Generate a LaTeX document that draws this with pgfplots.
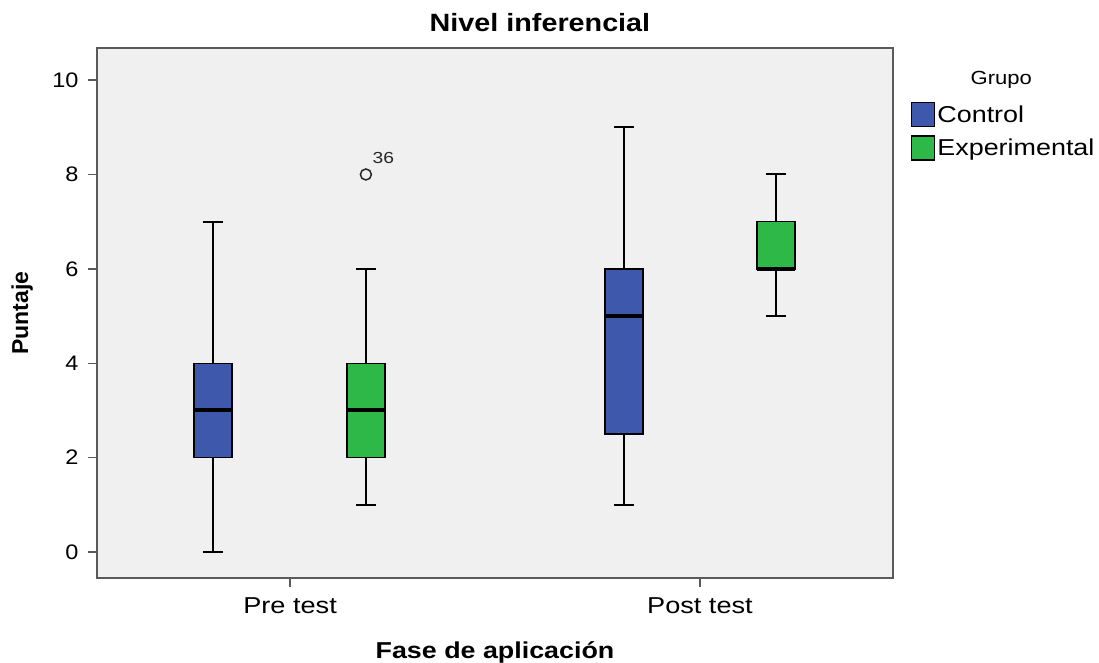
\documentclass[border=0pt]{standalone}
\usepackage{fontspec}
\setmainfont{Liberation Sans}
\usepackage{graphicx}
\usepackage{pgfplots}
\pgfplotsset{compat=1.18}
\usepgfplotslibrary{statistics}
\definecolor{ctrl}{HTML}{3E58AC}
\definecolor{expe}{HTML}{2EB848}
\definecolor{bg}{HTML}{F0F0F0}
\definecolor{frame}{HTML}{5A5A5A}
\newcommand\wide[2][1.16]{\scalebox{#1}[1]{#2}}
\begin{document}
\begin{tikzpicture}
\path[use as bounding box] (0,0) rectangle (1099pt,662pt);
\begin{axis}[
  at={(97pt,84pt)}, anchor=south west,
  scale only axis, width=796pt, height=530pt,
  clip=false,
  xmin=-0.471, xmax=1.471, ymin=-0.55, ymax=10.68,
  axis background/.style={fill=bg},
  axis line style={frame, line width=1.5pt},
  xtick={0,1}, xticklabels={\wide[1.18]{Pre test}, \wide[1.18]{Post test}},
  ytick={0,2,4,6,8,10},
  yticklabel={\wide[1.12]{\pgfmathprintnumber{\tick}}},
  tick align=outside, tick style={frame, line width=1.5pt},
  xtick pos=left, ytick pos=left,
  major tick length=9pt,
  /pgf/number format/assume math mode=true,
  yticklabel style={font=\fontsize{21}{21}\selectfont, xshift=-6pt},
  xticklabel style={font=\fontsize{23}{23}\selectfont, yshift=-7pt},
  title={\wide[1.15]{Nivel inferencial}},
  title style={at={(axis description cs:0.5565,1.036)}, anchor=center, font=\bfseries\fontsize{25}{25}\selectfont},
  xlabel={\wide[1.167]{Fase de aplicación}},
  xlabel style={at={(axis description cs:0.5,-0.14)}, anchor=center, font=\bfseries\fontsize{23}{23}\selectfont},
  ylabel={Puntaje},
  ylabel style={at={(axis description cs:-0.094,0.5)}, anchor=center, font=\bfseries\fontsize{23}{23}\selectfont},
  legend image code/.code={\draw[#1] (0pt,-12pt) rectangle (23pt,12pt);},
  legend style={at={(axis description cs:1.0226,0.898)}, anchor=north west, draw=none, fill=none, inner sep=0pt,
    font=\fontsize{23}{23}\selectfont, row sep=8pt},
  legend cell align=left,
  boxplot/draw direction=y,
  boxplot/every box/.style={draw=black, line width=1.5pt},
  boxplot/every whisker/.style={draw=black, line width=2pt},
  boxplot/every median/.style={draw=black, line width=4pt},
]
% Pre test - Control
\addplot[forget plot, fill=ctrl, draw=black, mark=none, boxplot prepared={draw position=-0.188, lower whisker=0, lower quartile=2, median=3, upper quartile=4, upper whisker=7, box extend=0.0927, whisker extend=0.0488}] coordinates {};
% Pre test - Experimental
\addplot[forget plot, fill=expe, draw=black, mark=none, boxplot prepared={draw position=0.185, lower whisker=1, lower quartile=2, median=3, upper quartile=4, upper whisker=6, box extend=0.0927, whisker extend=0.0488}] coordinates {};
% Post test - Control
\addplot[forget plot, fill=ctrl, draw=black, mark=none, boxplot prepared={draw position=0.815, lower whisker=1, lower quartile=2.5, median=5, upper quartile=6, upper whisker=9, box extend=0.0927, whisker extend=0.0488}] coordinates {};
% Post test - Experimental
\addplot[forget plot, fill=expe, draw=black, mark=none, boxplot prepared={draw position=1.185, lower whisker=5, lower quartile=6, median=6, upper quartile=7, upper whisker=8, box extend=0.0927, whisker extend=0.0488}] coordinates {};
% Outlier
\addplot[forget plot, only marks, mark=o, mark size=5.5pt, line width=1.5pt, color=black!85,
  nodes near coords={\wide[1.2]{\pgfplotspointmeta}}, point meta=explicit symbolic,
  nodes near coords style={font=\fontsize{16}{16}\selectfont, anchor=south west, inner sep=0pt, xshift=6pt, yshift=10pt}]
  coordinates {(0.185,8) [36]};
\addlegendimage{fill=ctrl, draw=black, line width=1.2pt}
\addlegendentry{\wide[1.17]{Control}}
\addlegendimage{fill=expe, draw=black, line width=1.2pt}
\addlegendentry{\wide[1.17]{Experimental}}
\node[font=\fontsize{19}{19}\selectfont] at (axis description cs:1.136,0.94) {\wide{Grupo}};
\end{axis}
\end{tikzpicture}
\end{document}
